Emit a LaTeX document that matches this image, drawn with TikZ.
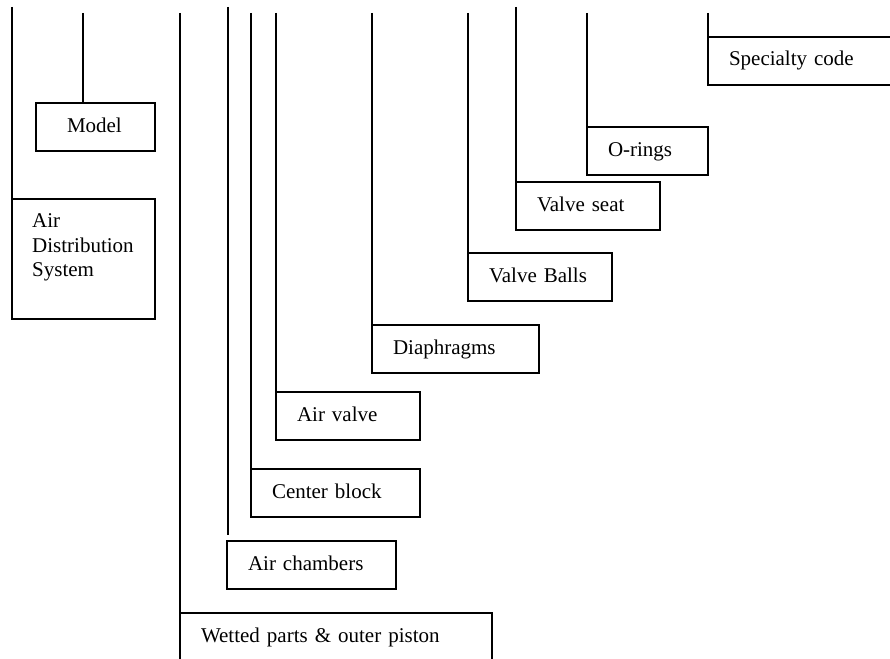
\documentclass[tikz,border=0pt]{standalone}
\usepackage{fontspec}
\setmainfont{Liberation Serif}
\usetikzlibrary{calc}
\begin{document}
\begin{tikzpicture}[x=1pt,y=-1pt,
  every node/.style={font=\fontsize{21}{24.5}\selectfont},
  ln/.style={line width=1.4pt},
  box/.style={draw, line width=1.4pt, rectangle, anchor=north west, outer sep=0pt,
    inner ysep=0pt, inner xsep=21pt, minimum height=48pt,
    text height=14pt, text depth=4pt, align=left}]
\useasboundingbox (0,0) rectangle (890,658);
\clip (0,0) rectangle (890,658);
% boxes
\node[box, inner xsep=31pt, text width=57pt] (model) at (36,103) {Model};
\node[draw, line width=1.4pt, anchor=north west, outer sep=0pt, inner sep=0pt,
      minimum width=143pt, minimum height=120pt] (ads) at (12,199) {};
\node[anchor=north west, align=left, inner sep=0pt] (adst) at (32,213.7) {Air\\Distribution\\System};
\node[box, text width=270pt] (wet) at (180,613) {Wetted parts \& outer piston};
\node[box, text width=127pt] (ac) at (227,541) {Air chambers};
\node[box, text width=127pt] (cb) at (251,469) {Center block};
\node[box, text width=102pt] (av) at (276,392) {Air valve};
\node[box, text width=125pt] (dia) at (372,325) {Diaphragms};
\node[box, text width=102pt] (vb) at (468,253) {Valve Balls};
\node[box, text width=102pt] (vs) at (516,182) {Valve seat};
\node[box, text width=79pt] (or) at (587,127) {O-rings};
\node[box, text width=158pt] (sc) at (708,37) {Specialty code};
% line tops
\coordinate (t1) at (12,7);
\coordinate (t2) at (83,13);
\coordinate (t3) at (180,13);
\coordinate (t4) at (228,7);
\coordinate (e4) at (228,535);
\coordinate (t5) at (251,13);
\coordinate (t6) at (276,13);
\coordinate (t7) at (372,13);
\coordinate (t8) at (468,13);
\coordinate (t9) at (516,7);
\coordinate (t10) at (587,13);
\coordinate (t11) at (708,13);
% connectors
\draw[ln] (t1) -- (ads.north west);
\draw[ln] (t2) -- (t2 |- model.north);
\draw[ln] (t3) -- (wet.north west);
\draw[ln] (t4) -- (e4);
\draw[ln] (t5) -- (cb.north west);
\draw[ln] (t6) -- (av.north west);
\draw[ln] (t7) -- (dia.north west);
\draw[ln] (t8) -- (vb.north west);
\draw[ln] (t9) -- (vs.north west);
\draw[ln] (t10) -- (or.north west);
\draw[ln] (t11) -- (sc.north west);
\end{tikzpicture}
\end{document}
